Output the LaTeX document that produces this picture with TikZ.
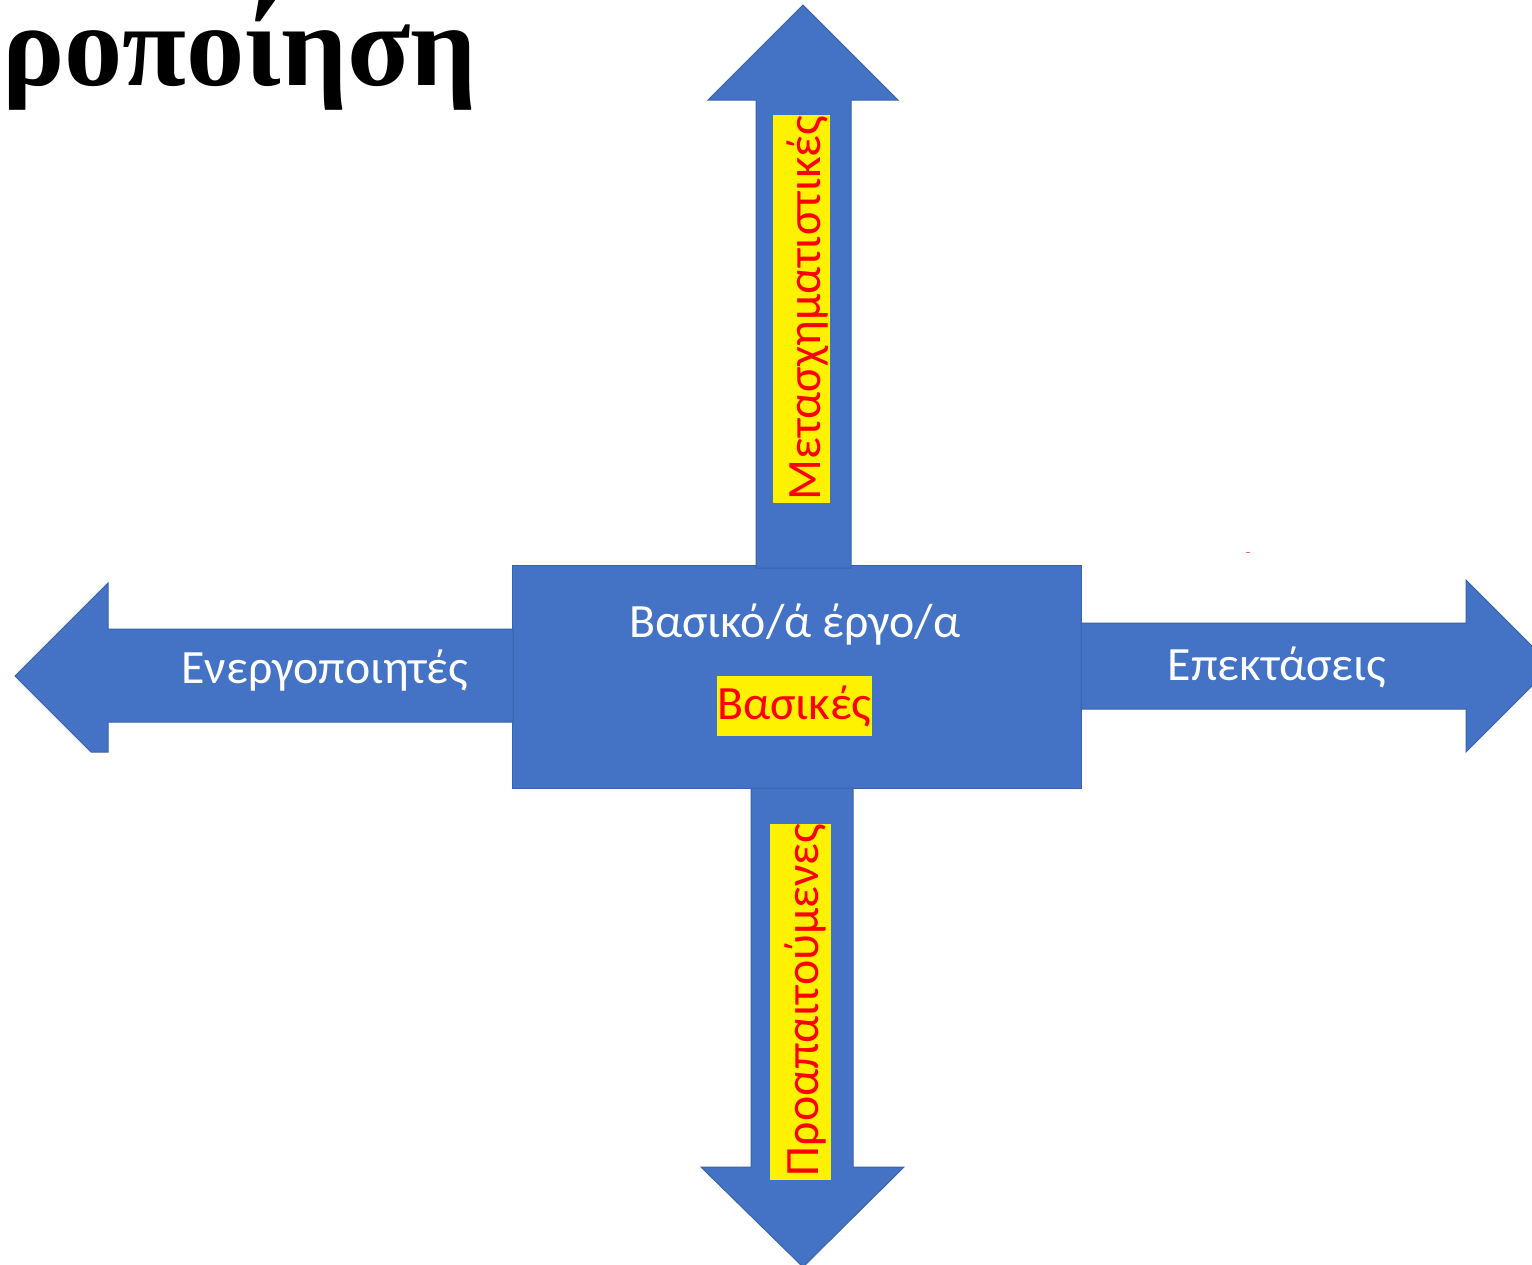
\documentclass[tikz,border=0pt]{standalone}
\usepackage{fontspec}
\setmainfont{Carlito}
\newfontfamily\titlefont{Liberation Serif}
\begin{document}
\begin{tikzpicture}[x=1bp,y=-1bp,
  arrowshape/.style={fill=arrowblue,draw=arrowedge,line width=1bp,line join=miter},
  whitelabel/.style={text=white,font=\fontsize{48}{58}\selectfont,inner sep=0pt},
  yellowbox/.style={fill=yellow,draw=none},
  redlabel/.style={text=red,font=\fontsize{48}{58}\selectfont,inner sep=0pt}]
\definecolor{arrowblue}{HTML}{4472C4}
\definecolor{arrowedge}{HTML}{3A62AC}
\useasboundingbox (0,0) rectangle (1532,1264);
\begin{scope}
\clip (0,0) rectangle (1532,1264);
% title
\node[anchor=base west,inner sep=0pt,font=\titlefont\bfseries\fontsize{117}{135}\selectfont] (title) at (2,85) {ροποίηση};
% center box
\node[fill=arrowblue,draw=arrowedge,line width=1bp,minimum width=569bp,minimum height=223bp,inner sep=0pt] (core) at (796.5,676.5) {};
% up arrow
\draw[arrowshape] (756,568) -- (756,100) -- (708,100) -- (803,5) -- (898,100) -- (851,100) -- (851,568) -- cycle;
% down arrow
\draw[arrowshape] (751,788) -- (751,1167) -- (701,1167) -- (803,1267) -- (904,1167) -- (853,1167) -- (853,788) -- cycle;
% left arrow
\draw[arrowshape] (513,629) -- (108,629) -- (108,583) -- (15,676) -- (91,752) -- (108,752) -- (108,722) -- (513,722) -- cycle;
% right arrow
\draw[arrowshape] (1081,623) -- (1466,623) -- (1466,580) -- (1552,666) -- (1466,752) -- (1466,709) -- (1081,709) -- cycle;
\end{scope}
% centre texts
\node[whitelabel] (coretitle) at (795,625) {Βασικό/ά έργο/α};
\node[yellowbox,minimum width=155bp,minimum height=60bp,inner sep=0pt] (basicbox) at (794.5,706) {};
\node[redlabel] (basic) at (basicbox) {Βασικές};
% side texts
\node[whitelabel] (activators) at (325,671) {Ενεργοποιητές};
\node[whitelabel] (extensions) at (1277,667) {Επεκτάσεις};
% vertical texts
\node[yellowbox,minimum width=57bp,minimum height=388bp,inner sep=0pt] (upbox) at (801.5,309) {};
\begin{scope}
\clip (773,115) rectangle (830,503);
\node[redlabel,rotate=90] (transform) at (808,308) {Μετασχηματιστικές};
\end{scope}
\node[yellowbox,minimum width=61bp,minimum height=356bp,inner sep=0pt] (downbox) at (800.5,1002) {};
\begin{scope}
\clip (770,824) rectangle (831,1180);
\node[redlabel,rotate=90] (prereq) at (806,1000) {Προαπαιτούμενες};
\end{scope}
% tiny red mark
\draw[red!60,line width=1bp] (1246,552) -- (1250,552);
\end{tikzpicture}
\end{document}
